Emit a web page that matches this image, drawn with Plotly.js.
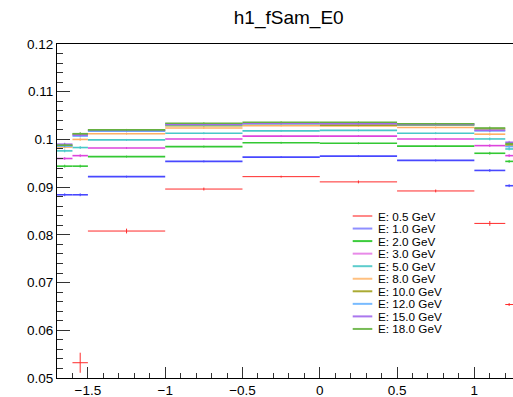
<!DOCTYPE html>
<html>
<head>
<meta charset="utf-8">
<script src="https://cdn.plot.ly/plotly-3.0.1.min.js"></script>
<style>html,body{margin:0;padding:0;background:#fff;}#chart{width:513px;height:397px;}</style>
</head>
<body>
<div id="chart"></div>
<script>
// Bin edges (eta bins)
var binEdges = [-1.7, -1.6, -1.5, -1.0, -0.5, 0, 0.5, 1.0, 1.2, 1.25];

// Series labels
var seriesNames = ["E: 0.5 GeV","E: 1.0 GeV","E: 2.0 GeV","E: 3.0 GeV","E: 5.0 GeV",
                   "E: 8.0 GeV","E: 10.0 GeV","E: 12.0 GeV","E: 15.0 GeV","E: 18.0 GeV"];

// Series values per bin
var e0p5  = [null,   0.0532, 0.0808, 0.0896, 0.0922, 0.0911, 0.0892, 0.0824, 0.0654];
var e1p0  = [0.0884, 0.0884, 0.0922, 0.0954, 0.0963, 0.0965, 0.0956, 0.0935, 0.0903];
var e2p0  = [0.0944, 0.0944, 0.0964, 0.0985, 0.0993, 0.0992, 0.0986, 0.0971, 0.0954];
var e3p0  = [0.0960, 0.0966, 0.0982, 0.1001, 0.1007, 0.1007, 0.1001, 0.0987, 0.0966];
var e5p0  = [0.0976, 0.0983, 0.0999, 0.1013, 0.1018, 0.1019, 0.1013, 0.1001, 0.0980];
var e8p0  = [0.0984, 0.1000, 0.1012, 0.1024, 0.1029, 0.1028, 0.1025, 0.1011, 0.0987];
var e10p0 = [0.0987, 0.1011, 0.1019, 0.1029, 0.1033, 0.1030, 0.1030, 0.1022, 0.0989];
var e12p0 = [0.0986, 0.1007, 0.1017, 0.1031, 0.1033, 0.1034, 0.1031, 0.1018, 0.0985];
var e15p0 = [0.0990, 0.1009, 0.1019, 0.1032, 0.1034, 0.1033, 0.1032, 0.1019, 0.0994];
var e18p0 = [0.0988, 0.1012, 0.1020, 0.1034, 0.1036, 0.1036, 0.1033, 0.1024, 0.0991];

// Statistical errors per bin
var err0p5  = [null, 0.0021, 0.0005, 0.0003, 0.0002, 0.0003, 0.0003, 0.0005, 0.0003];
var errRest = [0.0003, 0.0003, 0.0002, 0.0002, 0.0002, 0.0002, 0.0002, 0.0003, 0.0003];

var seriesValues = [e0p5, e1p0, e2p0, e3p0, e5p0, e8p0, e10p0, e12p0, e15p0, e18p0];
var seriesErrors = [err0p5, errRest, errRest, errRest, errRest, errRest, errRest, errRest, errRest, errRest];

// styles
var seriesColors = ["#ff2a2a","#4848ff","#33c833","#dd44dd","#48c8c8",
                    "#ffb066","#a0a028","#66b0ff","#a066ee","#66b040"];
var seriesWidths = [1, 1.6, 1.6, 1.6, 1.6, 1.6, 1.6, 1.6, 1.6, 1.6];
var legendColors = ["#ff3b3b","#8f8fff","#3ccc3c","#e88ae8","#5ccccc",
                    "#ffc080","#aaaa33","#78bbff","#aa77ee","#77bb55"];

var centers = [], halfW = [];
for (var i = 0; i < binEdges.length - 1; i++) {
  centers.push((binEdges[i] + binEdges[i+1]) / 2);
  halfW.push((binEdges[i+1] - binEdges[i]) / 2);
}

var traces = seriesValues.map(function(vals, k) {
  return {
    type: 'scatter', mode: 'markers', name: seriesNames[k],
    x: centers, y: vals,
    marker: {size: 0.1, opacity: 0, color: seriesColors[k]},
    error_x: {type: 'data', array: halfW, symmetric: true, color: seriesColors[k], thickness: seriesWidths[k], width: 0},
    error_y: {type: 'data', array: seriesErrors[k], symmetric: true, color: seriesColors[k], thickness: 1, width: 0},
    showlegend: false, hoverinfo: 'skip'
  };
});

// plot-area geometry (pixels) for legend placement
var W = 513, H = 397, L = 57, R = 0, T = 44, B = 19;
var pw = W - L - R, ph = H - T - B;
function px2x(px){ return (px - L) / pw; }
function py2y(py){ return (H - B - py) / ph; }

var shapes = [], annotations = [];
seriesNames.forEach(function(nm, k) {
  var yy = 216 + k * 12.55;
  shapes.push({type: 'line', xref: 'paper', yref: 'paper',
    x0: px2x(352.7), x1: px2x(372.3), y0: py2y(yy), y1: py2y(yy),
    line: {color: legendColors[k], width: k === 0 ? 1.2 : 2}});
  annotations.push({xref: 'paper', yref: 'paper', x: px2x(375.5), y: py2y(yy),
    xanchor: 'left', yanchor: 'middle', text: nm, showarrow: false,
    font: {size: 11.7, color: '#000'}});
});

var font = 'Liberation Sans, Arial, Helvetica, sans-serif';
var layout = {
  width: W, height: H,
  margin: {l: L, r: R, t: T, b: B, pad: 0},
  paper_bgcolor: '#fff', plot_bgcolor: '#fff',
  font: {family: font, color: '#000'},
  title: {text: 'h1_fSam_E0', font: {size: 19, family: font, color: '#000'},
          x: 288.7 / W, xref: 'container', xanchor: 'center',
          y: 1 - 17 / H, yref: 'container', yanchor: 'middle'},
  showlegend: false,
  xaxis: {range: [-1.7, 1.25], showgrid: false, zeroline: false,
          showline: true, linecolor: '#000', linewidth: 1, mirror: true,
          ticks: 'inside', ticklen: 11, tickcolor: '#333', dtick: 0.5, tick0: 0,
          tickfont: {size: 13.5, family: font, color: '#000'},
          minor: {dtick: 0.1, ticks: 'inside', ticklen: 5, tickcolor: '#333', showgrid: false}},
  yaxis: {range: [0.05, 0.12], showgrid: false, zeroline: false,
          showline: true, linecolor: '#000', linewidth: 1,
          ticks: 'inside', ticklen: 13, tickcolor: '#333', dtick: 0.01, tick0: 0,
          tickfont: {size: 13.5, family: font, color: '#000'},
          minor: {dtick: 0.002, ticks: 'inside', ticklen: 6, tickcolor: '#333', showgrid: false}},
  shapes: shapes,
  annotations: annotations
};

Plotly.newPlot('chart', traces, layout, {staticPlot: true, displayModeBar: false});
</script>
</body>
</html>
